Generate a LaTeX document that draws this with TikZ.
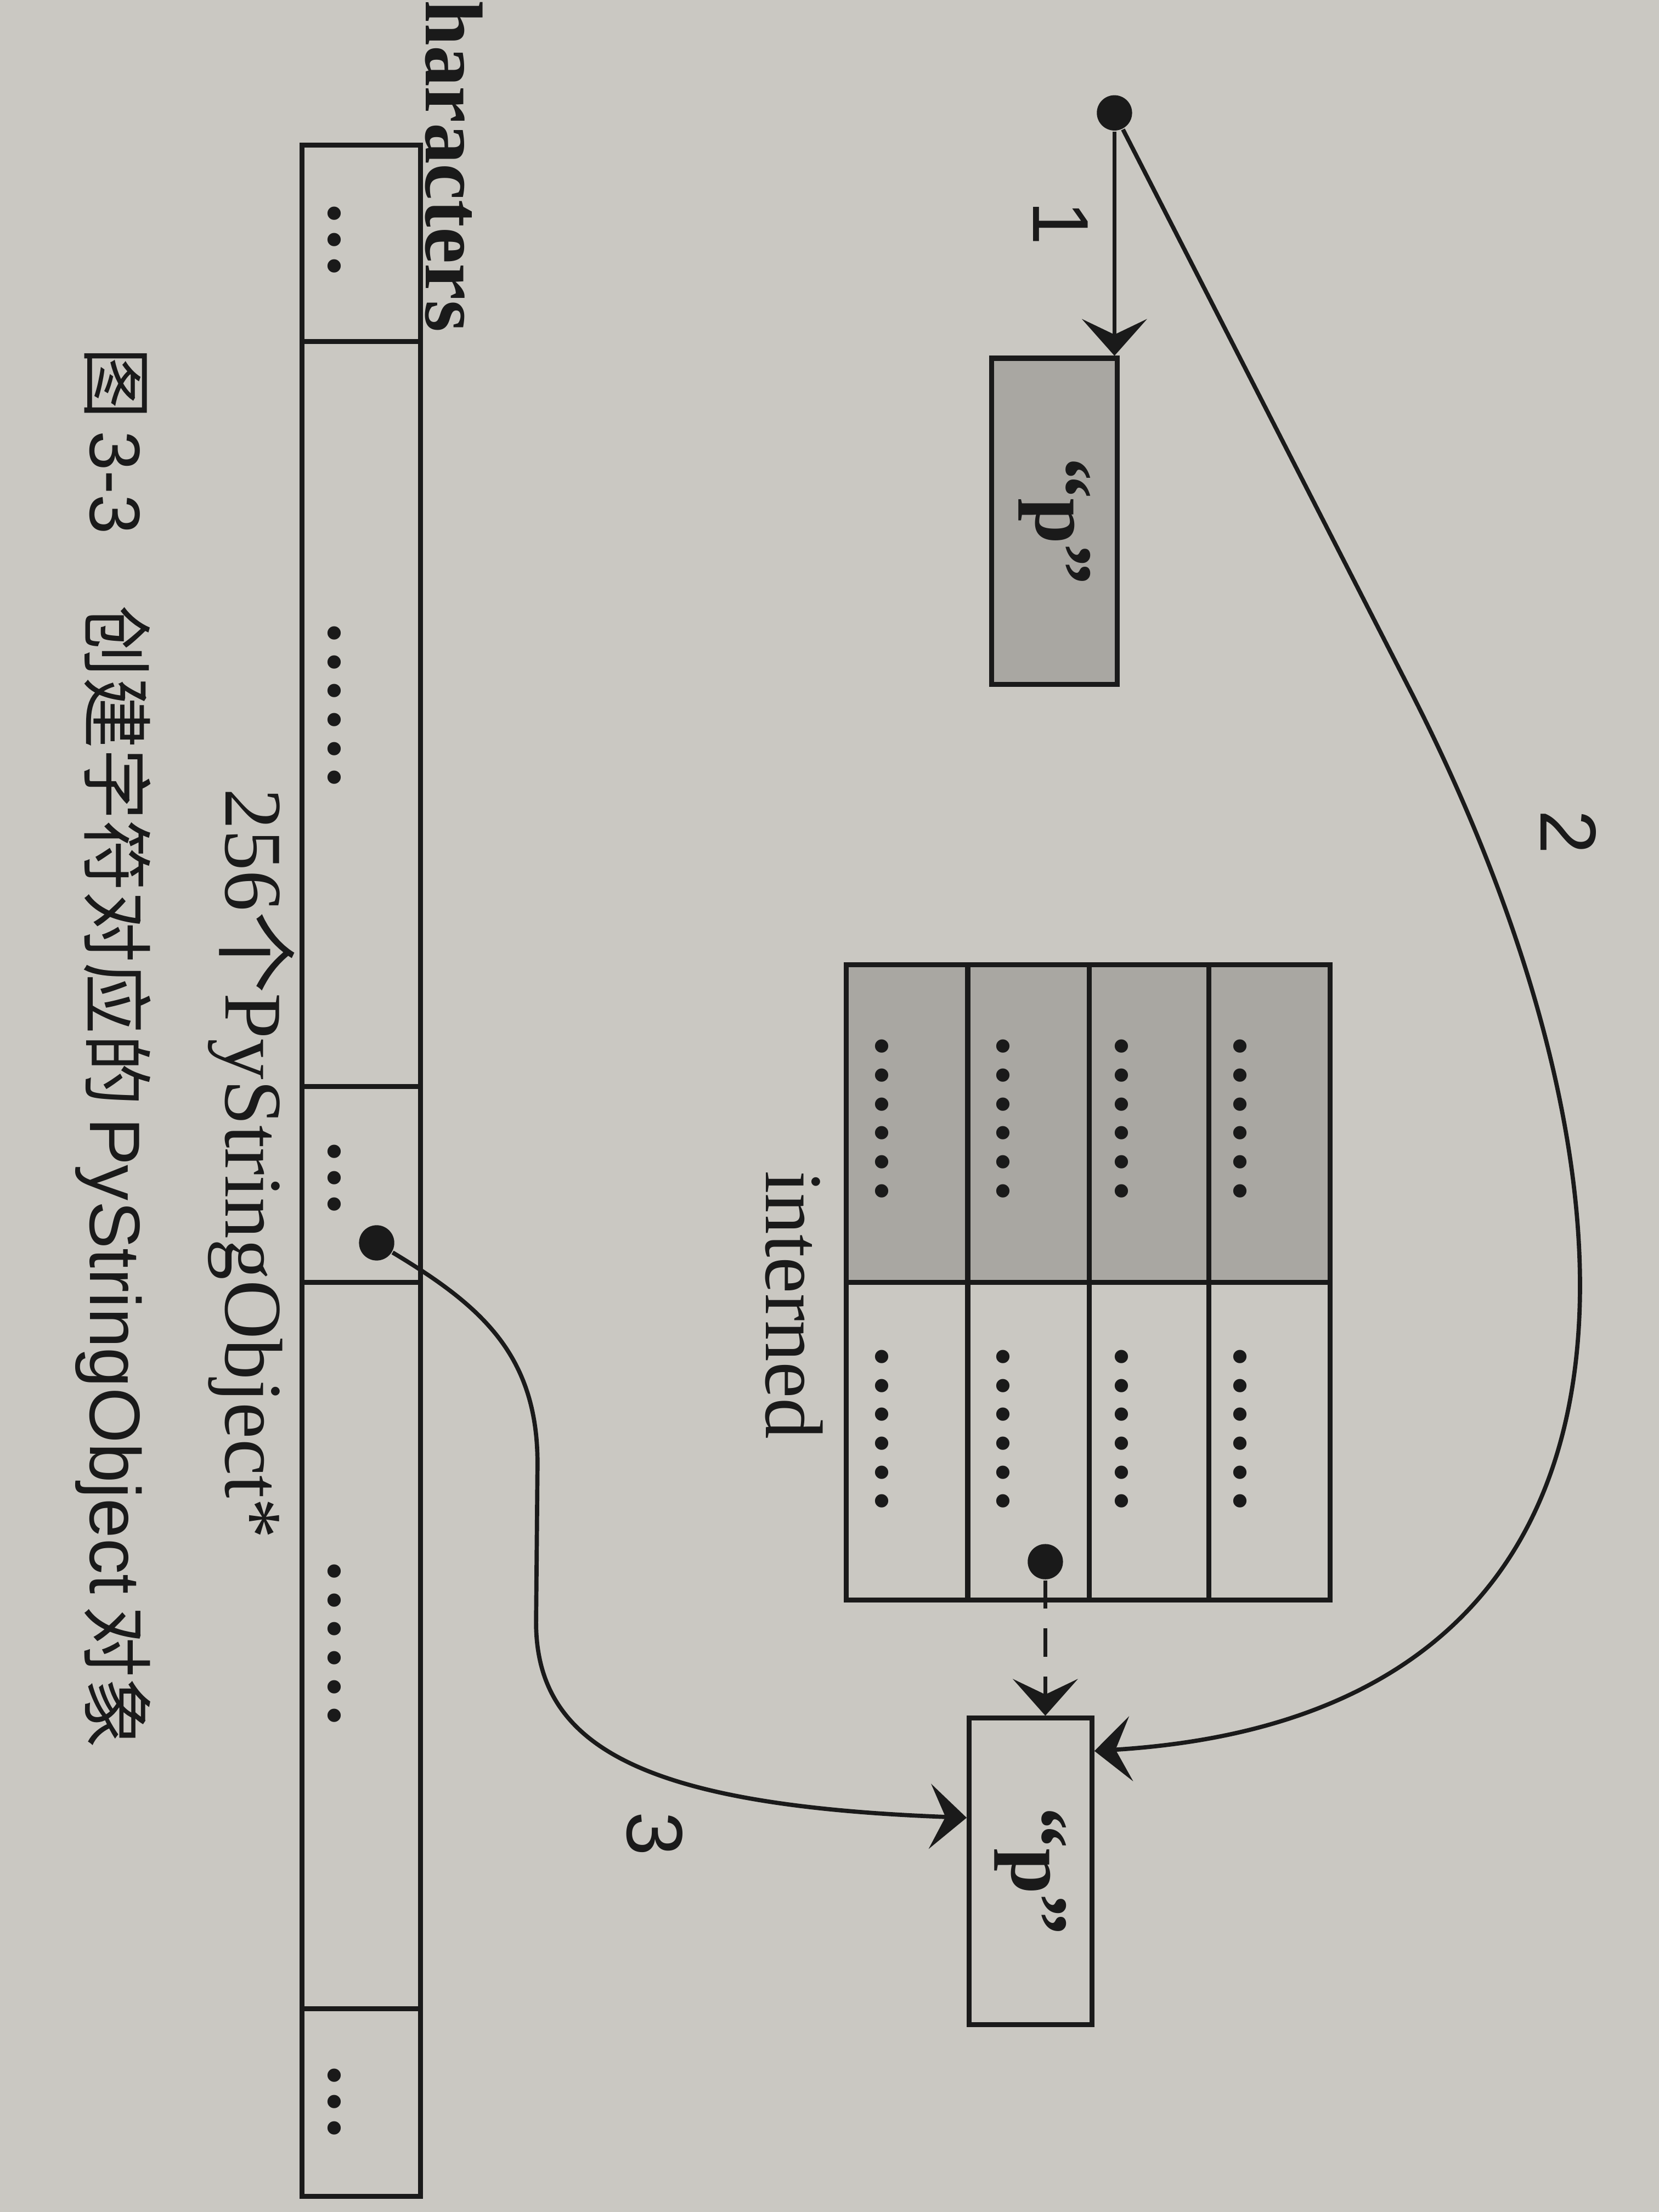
\documentclass[tikz,border=0pt]{standalone}
\usepackage{fontspec}
\setmainfont{Liberation Serif}
\newfontfamily\cjk{Noto Sans CJK SC}
\newfontfamily\capsf{Liberation Sans}
\usetikzlibrary{arrows.meta,calc}
\definecolor{paper}{HTML}{CAC8C2}
\definecolor{stipple}{HTML}{A9A7A2}
\definecolor{ink}{HTML}{1A1A1A}
\newcommand{\sixdots}{.\kern1.7pt.\kern1.7pt.\kern1.7pt.\kern1.7pt.\kern1.7pt.}
\newcommand{\threedots}{.\kern1.2pt.\kern1.2pt.}

\begin{document}
\begin{tikzpicture}[x=0.01cm,y=-0.01cm,
  grid/.style={draw=ink,line width=1pt},
  strbox/.style={draw=ink,line width=1pt,inner sep=0pt},
  vtext/.style={rotate=-90,text=ink,inner sep=0pt,font=\fontsize{16.5}{18}\selectfont},
  num/.style={vtext,font=\capsf\fontsize{16}{18}\selectfont},
  ptrdot/.style={circle,fill=ink,inner sep=0pt,minimum size=0.25cm},
  link/.style={draw=ink,line width=0.85pt,-{Stealth[length=2.6mm,width=4.6mm,inset=1.1mm]}}
]
  \useasboundingbox (0,0) rectangle (1176,1568);
  \fill[paper] (0,0) rectangle (1176,1568);
  \clip (0,0) rectangle (1176,1568);

  % interned table
  \draw[grid,fill=stipple] (600,684) rectangle (943,909);
  \draw[grid] (600,909) rectangle (943,1134);
  \draw[grid] (686,684) -- (686,1134) (772,684) -- (772,1134) (857,684) -- (857,1134);
  \node[vtext] (d11) at (625,793)  {\bfseries\sixdots};
  \node[vtext] (d12) at (711,793)  {\bfseries\sixdots};
  \node[vtext] (d13) at (795,793)  {\bfseries\sixdots};
  \node[vtext] (d14) at (879,793)  {\bfseries\sixdots};
  \node[vtext] (d21) at (625,1013) {\bfseries\sixdots};
  \node[vtext] (d22) at (711,1013) {\bfseries\sixdots};
  \node[vtext] (d23) at (795,1013) {\bfseries\sixdots};
  \node[vtext] (d24) at (879,1013) {\bfseries\sixdots};
  \node[vtext,anchor=base] (interned) at (543,925) {interned};

  % characters array
  \draw[grid] (214,103) rectangle (298,1557);
  \draw[grid] (214,242) -- (298,242) (214,770) -- (298,770) (214,909) -- (298,909) (214,1424) -- (298,1424);
  \node[vtext] (a1) at (237,170)  {\bfseries\threedots};
  \node[vtext] (a2) at (237,500)  {\bfseries\sixdots};
  \node[vtext] (a3) at (237,835)  {\bfseries\threedots};
  \node[vtext] (a4) at (237,1165) {\bfseries\sixdots};
  \node[vtext] (a5) at (237,1490) {\bfseries\threedots};
  \node[vtext,anchor=base east,font=\bfseries\fontsize{16.5}{18}\selectfont] (chars) at (302,236) {characters};
  \node[vtext,anchor=base] (ptrs) at (160,825) {256{\cjk 个}PyStringObject*};

  % string objects
  \node[strbox,fill=stipple,minimum width=0.89cm,minimum height=2.31cm] (strp1) at (747.5,369.5) {};
  \node[vtext,font=\bfseries\fontsize{16.5}{18}\selectfont] (txt1) at (strp1) {“p”};
  \node[strbox,minimum width=0.87cm,minimum height=2.17cm] (strp2) at (730.5,1326.5) {};
  \node[vtext,font=\bfseries\fontsize{16.5}{18}\selectfont] (txt2) at (strp2) {“p”};

  % pointers
  \node[ptrdot] (ptr0) at (790,80) {};
  \node[ptrdot] (ptrI) at (741,1107) {};
  \node[ptrdot] (ptrC) at (267,881) {};
  \draw[link] (ptr0) -- (ptr0 |- strp1.north);
  \draw[link] (ptr0) -- (1000,490) .. controls (1175,833) and (1200,1215) .. ($(strp2.north east)+(0,25)$);
  \draw[link,dash pattern=on 0.2cm off 0.14cm] (ptrI) -- (ptrI |- strp2.north);
  \draw[link] (ptrC) .. controls (340,925) and (382,960) .. (381,1040) -- (380,1150)
    .. controls (380,1240) and (460,1280) .. ($(strp2.west)+(0,-38)$);
  \node[num] (lab1) at (752,158)  {1};
  \node[num] (lab2) at (1112,590) {2};
  \node[num] (lab3) at (464,1300) {3};

  % caption
  \node[vtext,font=\fontsize{14.4}{16}\selectfont] (caption) at (80,743)
    {{\cjk 图}\,{\capsf 3-3}\quad{\cjk 创建字符对应的}\,{\capsf PyStringObject}\,{\cjk 对象}};
\end{tikzpicture}
\end{document}
